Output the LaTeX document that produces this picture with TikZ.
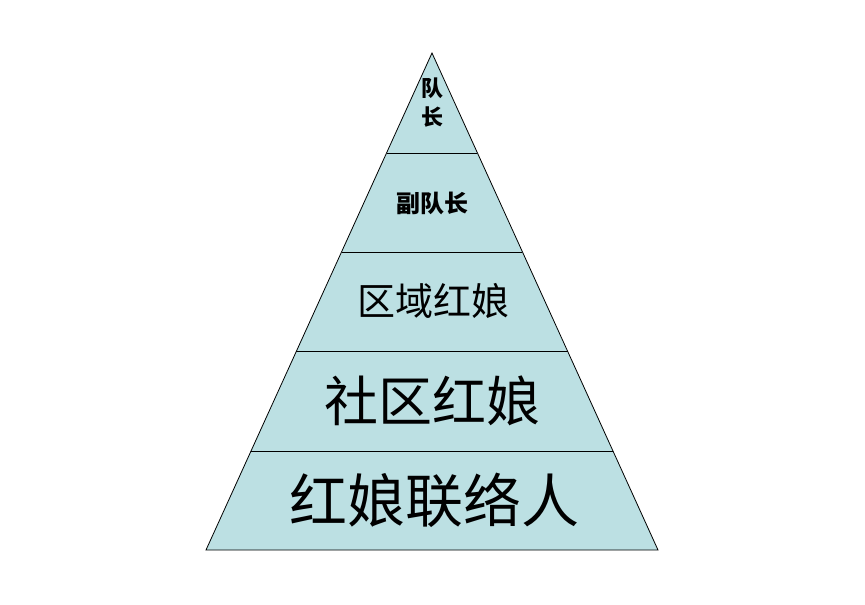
\documentclass[tikz,border=0pt]{standalone}
\usepackage{fontspec}
\newfontfamily\cjk{Noto Sans CJK SC}
\definecolor{pyr}{HTML}{BCE0E3}
\begin{document}
\begin{tikzpicture}[x=1pt,y=-1pt,
  lvl/.style={draw=black,line width=0.8pt,fill=pyr,line join=miter},
  lbl/.style={inner sep=0pt,font=\cjk,text=black}]
\useasboundingbox (0,0) rectangle (865,605);
\coordinate (A) at (432,53);
\coordinate (BL) at (206,550);
\coordinate (BR) at (658,550);
\fill[pyr] (A) -- (BL) -- (BR) -- cycle;
\foreach \y in {153,252,351,451}{
  \pgfmathsetmacro{\hw}{(\y-53)/497*226}
  \draw[line width=0.8pt] (432-\hw,\y) -- (432+\hw,\y);
}
\draw[lvl,fill=none] (A) -- (BL) -- (BR) -- cycle;
\node[lbl,font=\cjk\fontsize{22}{29}\selectfont\bfseries,align=center] (t1) at (432,103) {队\\长};
\node[lbl,font=\cjk\fontsize{24}{28}\selectfont\bfseries] (t2) at (432,203) {副队长};
\node[lbl,font=\cjk\fontsize{38}{42}\selectfont] (t3) at (433,301) {区域红娘};
\node[lbl,font=\cjk\fontsize{54}{60}\selectfont] (t4) at (432,401) {社区红娘};
\node[lbl,font=\cjk\fontsize{58}{62}\selectfont] (t5) at (434,500) {红娘联络人};
\end{tikzpicture}
\end{document}
